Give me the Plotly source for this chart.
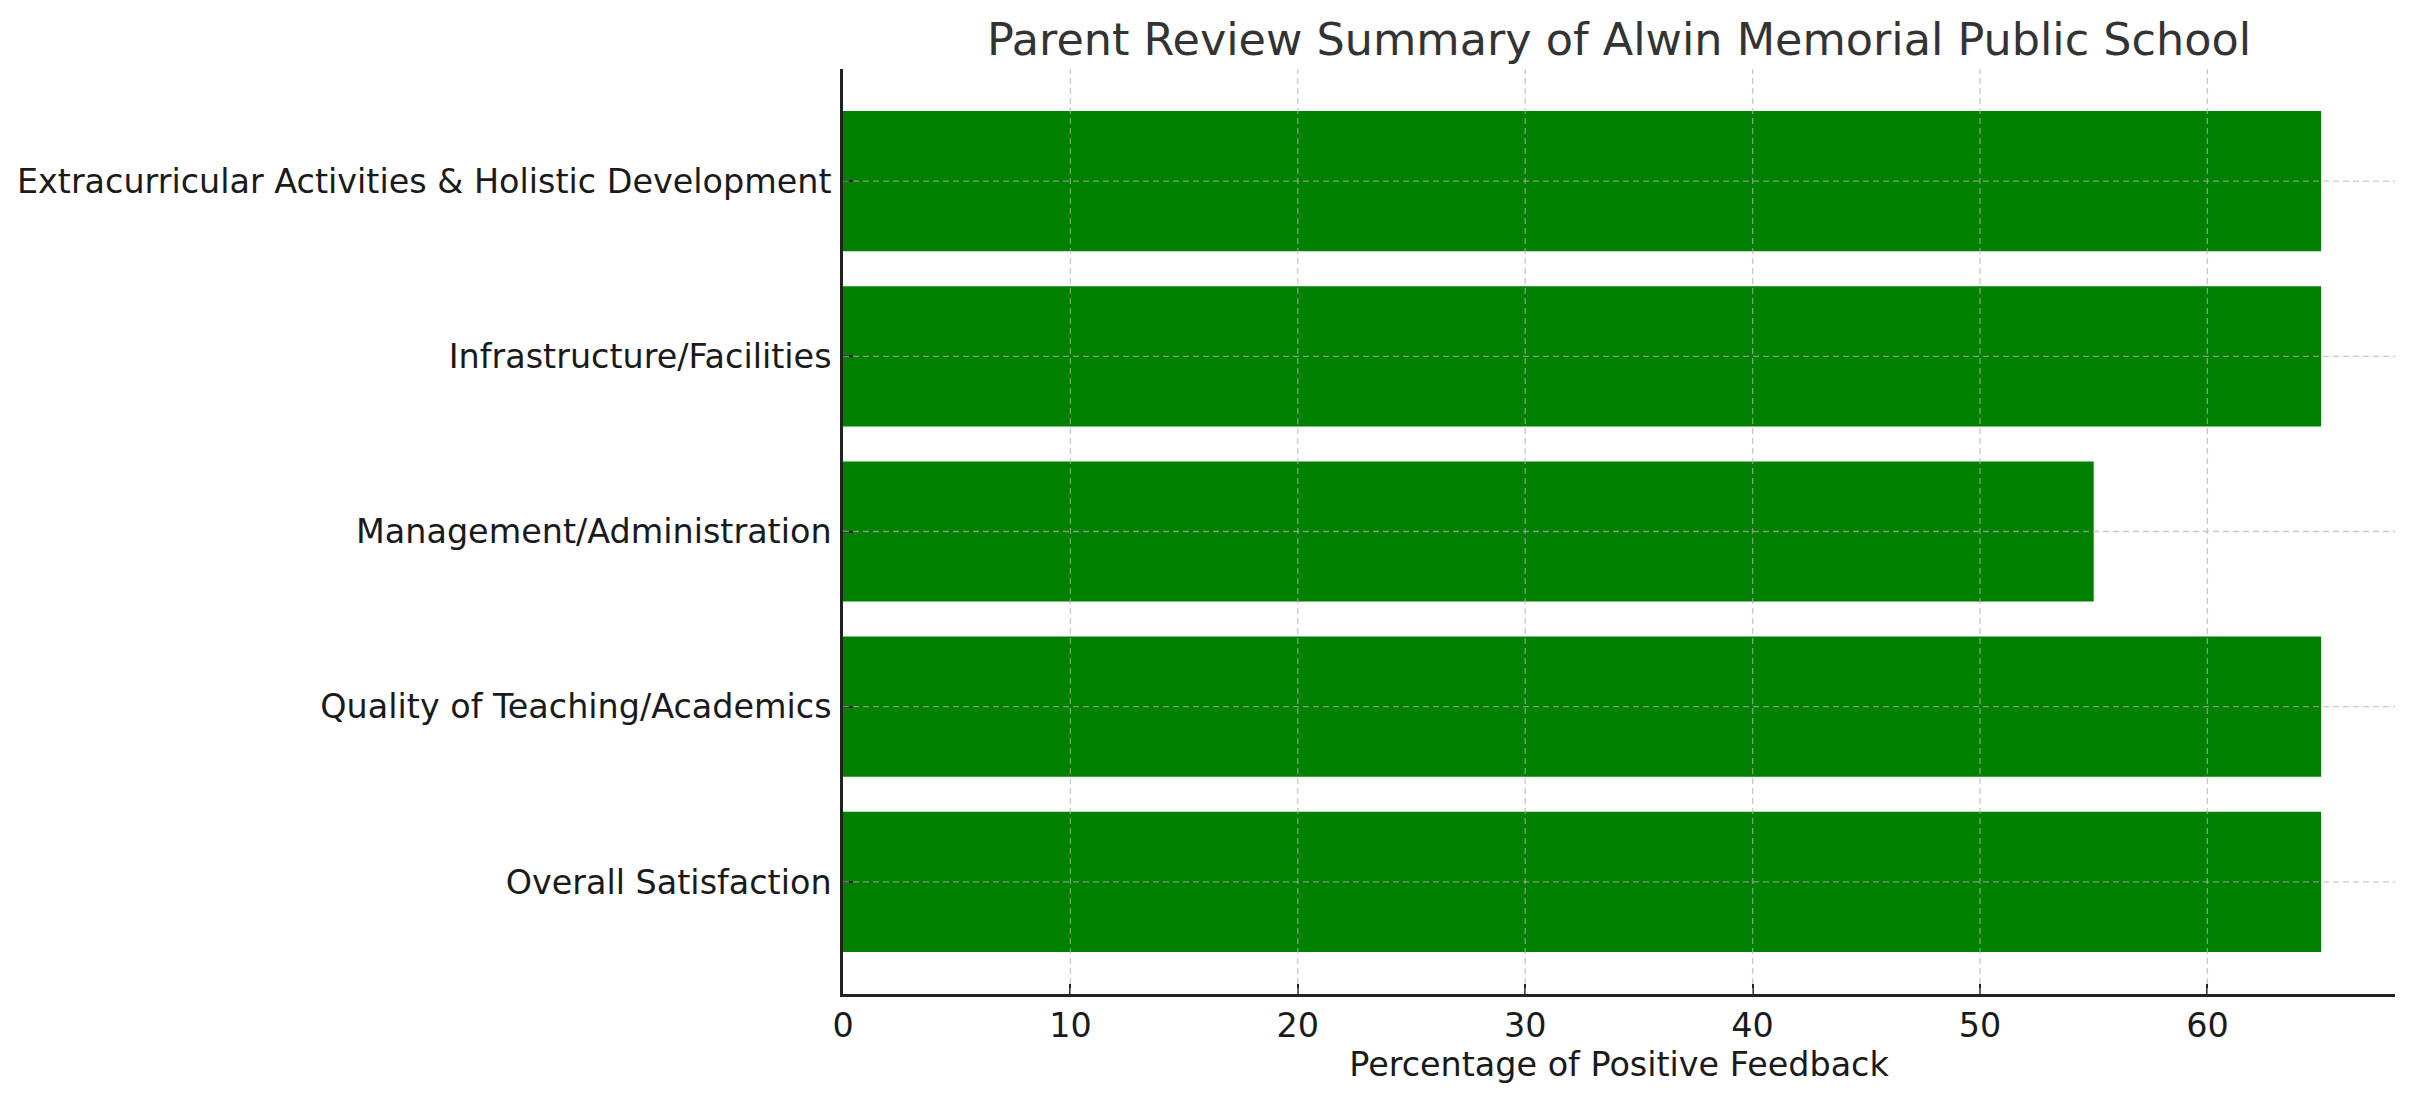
import plotly.graph_objects as go

# Data
categories = [
    'Overall Satisfaction',
    'Quality of Teaching/Academics',
    'Management/Administration',
    'Infrastructure/Facilities',
    'Extracurricular Activities & Holistic Development',
]
positive_pct = [65, 65, 55, 65, 65]
x_ticks = [0, 10, 20, 30, 40, 50, 60]

W, H = 2413, 1101
GRID = 'rgba(176,176,176,0.7)'
FONT = 'DejaVu Sans'

fig = go.Figure(
    go.Bar(
        x=positive_pct,
        y=categories,
        orientation='h',
        width=0.8,
        marker={'color': 'green', 'line': {'width': 0}},
        hoverinfo='x+y',
    )
)

# grid drawn on top of the bars, like matplotlib's default
shapes = []
for t in x_ticks[1:]:
    shapes.append(dict(type='line', xref='x', yref='paper', x0=t, x1=t, y0=0, y1=1,
                       layer='above', line={'color': GRID, 'width': 1.3, 'dash': '6px,4px'}))
for c in categories:
    shapes.append(dict(type='line', xref='paper', yref='y', x0=0, x1=1, y0=c, y1=c,
                       layer='above', line={'color': GRID, 'width': 1.3, 'dash': '6px,4px'}))

fig.update_layout(
    width=W,
    height=H,
    margin={'l': 843, 'r': 18, 't': 69, 'b': 107},
    paper_bgcolor='white',
    plot_bgcolor='white',
    font={'family': FONT, 'size': 33.4, 'color': '#1a1a1a'},
    showlegend=False,
    shapes=shapes,
    title={
        'text': 'Parent Review Summary of Alwin Memorial Public School',
        'font': {'family': FONT, 'size': 44.5, 'color': '#333333'},
        'x': (843 + 2395) / 2 / W,
        'xanchor': 'center',
        'xref': 'container',
        'yref': 'container',
        'y': 1 - 39 / H,
        'yanchor': 'middle',
    },
    bargap=0.2,
)

fig.update_xaxes(
    range=[0, 68.25],
    tickvals=x_ticks,
    showgrid=False,
    zeroline=False,
    showline=True,
    linecolor='#222222',
    linewidth=2.5,
    ticks='inside',
    ticklen=10,
    tickwidth=2,
    tickcolor='#222222',
    tickfont={'size': 33.4, 'color': '#1a1a1a'},
    title={'text': 'Percentage of Positive Feedback', 'font': {'size': 33.4, 'color': '#1a1a1a'}, 'standoff': 9},
    layer='above traces',
    fixedrange=True,
)
fig.update_yaxes(
    range=[-0.64, 4.64],
    showgrid=False,
    zeroline=False,
    showline=True,
    linecolor='#222222',
    linewidth=2.5,
    ticks='inside',
    ticklen=10,
    tickwidth=2,
    tickcolor='#222222',
    tickfont={'size': 33.4, 'color': '#1a1a1a'},
    ticklabelstandoff=2,
    layer='above traces',
    fixedrange=True,
)

# drop the browser's default 8px body margin so the figure sits at the page corner
fig.write_html("out.html", config={'displayModeBar': False},
               post_script="document.body.style.margin='0';")
